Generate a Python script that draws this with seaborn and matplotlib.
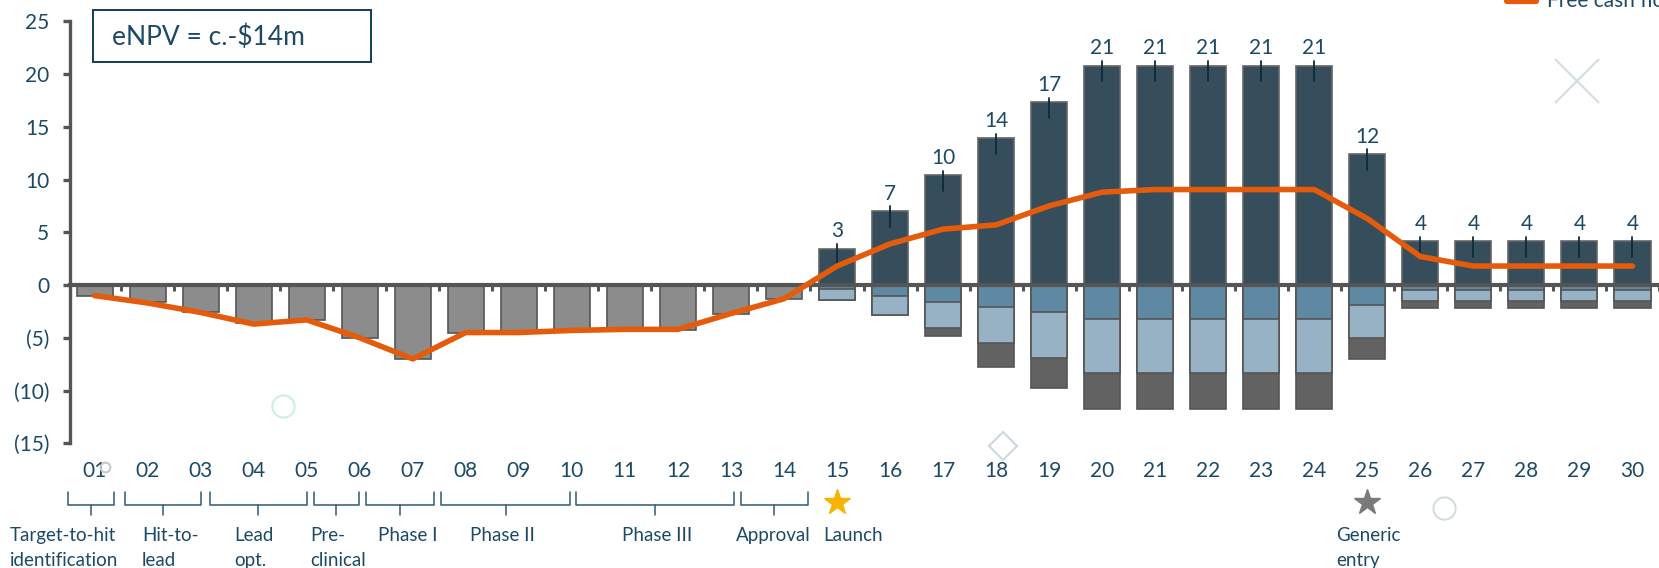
import numpy as np
import seaborn as sns
from matplotlib import pyplot as plt
from matplotlib.lines import Line2D
from matplotlib.patches import Rectangle
from matplotlib.ticker import FuncFormatter

# Years on the x axis
years = ["%02d" % i for i in range(1, 31)]

# Development costs (grey bars, years 01-14)
rd_costs = [-1.0, -1.6, -2.6, -3.6, -3.3, -5.0, -7.0, -4.5, -4.4, -4.3,
            -4.2, -4.3, -2.7, -1.3] + [0.0] * 16
# Revenue (dark bars)
revenue = [0.0] * 14 + [3.45, 7.0, 10.4, 13.9, 17.3, 20.8, 20.8, 20.8, 20.8,
                        20.8, 12.4, 4.15, 4.15, 4.15, 4.15, 4.15]
# Negative stack: medium blue, light blue, dark grey
cost_a = [0.0] * 14 + [-0.4, -1.0, -1.6, -2.1, -2.6, -3.2, -3.2, -3.2, -3.2,
                       -3.2, -1.9, -0.5, -0.5, -0.5, -0.5, -0.5]
cost_b = [0.0] * 14 + [-1.0, -1.8, -2.5, -3.4, -4.3, -5.1, -5.1, -5.1, -5.1,
                       -5.1, -3.1, -1.0, -1.0, -1.0, -1.0, -1.0]
cost_c = [0.0] * 14 + [0.0, 0.0, -0.7, -2.3, -2.9, -3.4, -3.4, -3.4, -3.4,
                       -3.4, -2.0, -0.7, -0.7, -0.7, -0.7, -0.7]
# Free cash flow line
fcf = [-1.0, -1.7, -2.6, -3.7, -3.3, -5.0, -7.0, -4.5, -4.5, -4.3,
       -4.2, -4.2, -2.7, -1.3, 1.8, 3.9, 5.3, 5.7, 7.5, 8.8,
       9.05, 9.05, 9.05, 9.05, 6.3, 2.7, 1.8, 1.8, 1.8, 1.8]

phases = ["Target-to-hit\nidentification", "Hit-to-\nlead", "Lead\nopt.",
          "Pre-\nclinical", "Phase I", "Phase II", "Phase III", "Approval"]
phase_spans = [(-0.5, 0.37), (0.57, 2.0), (2.18, 4.0), (4.13, 4.98),
               (5.11, 6.41), (6.54, 8.97), (9.07, 12.06), (12.19, 13.45)]
phase_text_x = [(-1.59, 'left'), (0.89, 'left'), (2.64, 'left'),
                (4.06, 'left'), (5.91, 'center'), (7.70, 'center'),
                (10.61, 'center'), (12.80, 'center')]
events = ["Launch", "Generic\nentry"]
event_pos = [14, 24]

NAVY = "#364d5c"
MID = "#5f88a3"
LIGHT = "#98b2c5"
DGREY = "#626262"
GREY = "#8c8c8c"
ORANGE = "#e55b0c"
TXT = "#1c4a66"
AX = "#555555"

sns.set_theme(style="white")
plt.rcParams['font.family'] = ['Lato', 'DejaVu Sans']

W, H = 1659, 568
fig = plt.figure(figsize=(W / 100, H / 100), dpi=100)
ax = fig.add_axes([70 / W, 0.2195, 1 - 70 / W, 0.7431])

bar_kw = dict(order=years, width=0.68, saturation=1, ax=ax, linewidth=1.2)
neg_total = np.array(cost_a) + np.array(cost_b) + np.array(cost_c)
neg_ab = np.array(cost_a) + np.array(cost_b)
sns.barplot(x=years, y=rd_costs, color=GREY, edgecolor=AX, **bar_kw)
sns.barplot(x=years, y=revenue, color=NAVY, edgecolor="#666666", **bar_kw)
sns.barplot(x=years, y=neg_total, color=DGREY, edgecolor=AX, **bar_kw)
sns.barplot(x=years, y=neg_ab, color=LIGHT, edgecolor=AX, **bar_kw)
sns.barplot(x=years, y=cost_a, color=MID, edgecolor=AX, **bar_kw)

sns.lineplot(x=np.arange(len(fcf)), y=fcf, color=ORANGE, linewidth=4,
             sort=False, ax=ax, zorder=6, solid_capstyle='round')

# value labels over revenue bars
for i, v in enumerate(revenue):
    if v > 0:
        ax.plot([i, i], [v + 0.45, v - 1.5], color="#0b2a3c", lw=1.3, zorder=4)
        ax.text(i, v + 0.7, "%.0f" % v, ha='center', va='bottom',
                fontsize=15, color=TXT)

ax.set_xlim(-0.463, 29.46)
ax.set_ylim(-15, 25)
ax.set_yticks(np.arange(-15, 26, 5))
ax.yaxis.set_major_formatter(FuncFormatter(
    lambda v, p: "(%d)" % abs(v) if v < 0 else "%d" % v))
ax.tick_params(axis='y', direction='out', length=5, width=2.4, color=AX,
               labelsize=15, labelcolor=TXT, pad=10, left=True)

for s in ['top', 'right']:
    ax.spines[s].set_visible(False)
ax.spines['left'].set_color(AX)
ax.spines['left'].set_linewidth(2.4)
ax.spines['bottom'].set_position(('data', 0))
ax.spines['bottom'].set_color(AX)
ax.spines['bottom'].set_linewidth(3)
ax.spines['bottom'].set_zorder(5)
ax.set_xticks(np.arange(30) + 0.5, minor=True)
ax.tick_params(axis='x', which='minor', direction='out', length=4, width=2.2,
               color=AX, bottom=True)
ax.tick_params(axis='x', which='major', length=0, labelbottom=False)
ax.set_xlabel("")
ax.set_ylabel("")

sec = ax.secondary_xaxis('bottom')
sec.set_xticks(np.arange(30), labels=years)
sec.tick_params(length=0, pad=13, labelsize=15, labelcolor=TXT)
sec.spines['bottom'].set_visible(False)

# phase brackets below the axis
trans = ax.get_xaxis_transform()
yb_top, yb_bot, yb_tip = -0.116, -0.146, -0.170
for (a, b), name, (tx, ha) in zip(phase_spans, phases, phase_text_x):
    m = (a + b) / 2
    ax.plot([a, a, b, b], [yb_top, yb_bot, yb_bot, yb_top], color="#2e5a75",
            lw=1.1, transform=trans, clip_on=False)
    ax.plot([m, m], [yb_bot, yb_tip], color="#2e5a75", lw=1.1,
            transform=trans, clip_on=False)
    ax.text(tx, -0.198, name, ha=ha, va='top', fontsize=13.5, color=TXT,
            transform=trans, linespacing=1.6)

star_colors = ["#f7b500", "#7a7a7a"]
label_shift = [-0.26, -0.58]
for p, name, c, dx in zip(event_pos, events, star_colors, label_shift):
    ax.plot([p], [-0.14], marker='*', ms=19, color=c, transform=trans,
            clip_on=False)
    ax.text(p + dx, -0.198, name, ha='left', va='top', fontsize=13.5,
            color=TXT, transform=trans, linespacing=1.6)

# eNPV box
fig.add_artist(Rectangle((93 / W, 1 - 62 / H), 278 / W, 52 / H,
                         transform=fig.transFigure, fill=False,
                         edgecolor="#0e3d5a", lw=1.4))
fig.text(112 / W, 1 - 37 / H, "eNPV = c.-$14m", fontsize=19,
         color=TXT, va='center', ha='left')

# legend entry, cut by the top edge
fig.add_artist(Line2D([1507 / W, 1536 / W], [1 - 1 / H, 1 - 1 / H],
                      color=ORANGE, lw=4.5, transform=fig.transFigure))
fig.text(1547 / W, 1 - 7 / H, "Free cash flow", fontsize=15, color=TXT,
         va='baseline', ha='left')

# faint background decorations
deco = [(283, 406, 'o', 16, "#cdeee4"), (1003, 446, 'D', 14, "#cdd8e0"),
        (1577, 81, 'x', 32, "#d3dde3"), (1444, 508, 'o', 16, "#d3dde3"),
        (105, 467, 'o', 7, "#c9c9c9")]
for x, y, mk, ms, c in deco:
    fig.add_artist(Line2D([x / W], [1 - y / H], marker=mk, ms=ms,
                          mfc='none', mec=c, mew=1.5,
                          transform=fig.transFigure))

plt.savefig("out.png", dpi=100)
